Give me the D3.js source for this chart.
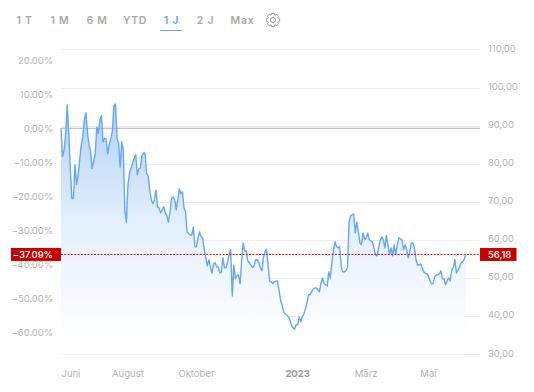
<!DOCTYPE html>
<html><head><meta charset="utf-8">
<script src="https://cdn.jsdelivr.net/npm/d3@7"></script>
<style>html,body{margin:0;padding:0;background:#fff}svg{display:block}text{font-family:Inter,"Noto Sans",sans-serif}</style>
</head><body><div id="c"></div>
<script>
const closes=[89.3,81.9,83.6,88.0,95.4,88.0,78.4,70.8,71.0,79.7,74.5,77.1,81.0,85.0,87.1,91.5,93.4,88.0,85.0,83.2,
78.7,80.6,82.8,89.6,88.0,91.5,92.6,85.8,86.7,86.5,82.6,85.0,86.7,88.5,95.2,95.7,86.7,85.4,79.1,85.8,
83.6,67.9,64.7,74.4,77.6,78.9,80.2,81.5,82.3,77.1,78.6,78.9,82.1,82.8,82.8,77.3,76.8,73.1,70.5,69.5,
70.5,73.1,68.7,68.4,67.1,67.9,68.7,67.1,66.3,64.7,67.4,71.0,71.3,70.5,67.9,70.5,73.4,72.1,72.6,68.4,
67.4,62.1,61.6,61.3,61.3,63.4,58.2,58.2,60.5,62.1,60.8,60.5,57.4,55.3,53.2,54.8,52.9,51.3,53.7,54.0,
52.9,52.9,51.3,51.6,55.3,52.7,52.7,54.2,56.3,57.4,45.3,53.4,49.8,50.6,50.8,48.5,54.2,59.2,57.1,57.1,
54.5,54.0,53.4,52.7,53.2,54.8,54.8,54.2,52.7,51.9,55.3,56.9,57.6,53.4,49.2,49.0,48.5,49.0,49.1,49.2,
46.9,44.3,42.9,41.1,40.6,40.3,39.8,39.0,37.7,36.9,36.6,37.7,37.7,39.8,38.5,39.8,40.6,41.9,43.5,45.6,
45.6,46.4,47.1,47.4,47.4,46.9,46.4,48.7,50.0,48.5,48.2,47.9,51.6,50.0,54.2,57.4,59.5,58.2,57.9,58.2,
52.9,51.6,51.6,51.9,52.7,64.7,66.3,66.6,66.8,61.8,64.7,62.1,59.2,58.7,61.8,60.0,60.5,61.8,60.0,59.7,
59.5,57.9,56.1,55.8,57.9,59.7,60.8,60.0,57.9,61.1,58.7,56.1,57.9,55.8,58.7,56.1,58.7,60.5,60.3,60.0,
57.4,58.7,57.4,55.3,56.9,59.2,59.2,57.9,54.8,53.4,53.4,53.7,52.7,51.6,51.3,51.1,50.6,49.2,48.5,48.5,
50.3,50.8,50.8,51.1,51.9,49.8,49.8,48.2,49.2,50.0,49.2,52.1,52.7,54.8,51.3,52.1,52.9,54.0,54.2,55.0,56.18];
const basePrice=89.3;
const lastPrice=56.18;
const lastPct=-37.09;
const priceTicks=[110,100,90,80,70,60,50,40,30];
const pctTicks=[20,10,0,-10,-20,-30,-40,-50,-60];
const monthLabels=["Juni","August","Oktober","2023","März","Mai"];
const monthSessions=[6.4,43,87,152,196,236];
const tabs=["1 T","1 M","6 M","YTD","1 J","2 J","Max"];
const tabCentres=[24.5,60,97,135,171.5,205.5,242.5];
const activeTab="1 J";

const W=534,H=392;
const svg=d3.select("#c").append("svg").attr("width",W).attr("height",H);
const x=d3.scaleLinear().domain([0,closes.length-1]).range([61,465.8]);
const y=d3.scaleLinear().domain([30,110]).range([354.2,49.4]);
const yPct=p=>y(basePrice*(1+p/100));
const fmt=v=>d3.format(".2f")(v).replace("-","\u2212");
const de=v=>d3.format(".2f")(v).replace(".",",");
const grey="#b4b4b4";

const g=svg.append("linearGradient").attr("id","fill").attr("gradientUnits","userSpaceOnUse")
 .attr("x1",0).attr("x2",0).attr("y1",y(95.7)).attr("y2",y(34));
g.append("stop").attr("offset",0).attr("stop-color","#b2d1f5");
g.append("stop").attr("offset",.5).attr("stop-color","#e3effc");
g.append("stop").attr("offset",1).attr("stop-color","#ffffff");

tabs.forEach((t,i)=>{
 svg.append("text").attr("x",tabCentres[i]).attr("y",24).attr("text-anchor","middle")
  .attr("font-size",10.5).attr("font-weight",600).attr("letter-spacing",.7)
  .attr("fill",t===activeTab?"#5ea3ee":"#ada7a2").text(t);
});
svg.append("line").attr("x1",160).attr("x2",182).attr("y1",30.5).attr("y2",30.5).attr("stroke","#5ea3ee").attr("stroke-width",1);
const gear=d3.lineRadial().curve(d3.curveLinearClosed).angle(d=>d[0]).radius(d=>d[1]);
const teeth=d3.range(8).flatMap(i=>{const a=i*Math.PI/4;return [[a-.2,6.8],[a+.2,6.8],[a+.36,5.2],[a+Math.PI/4-.36,5.2]];});
const gi=svg.append("g").attr("transform","translate(273,20)").attr("fill","none").attr("stroke","#8f8f8f").attr("stroke-width",.9);
gi.append("path").attr("d",gear(teeth)).attr("stroke-linejoin","round");
gi.append("circle").attr("r",2.6);

svg.append("g").selectAll("line").data(priceTicks).join("line")
 .attr("x1",61).attr("x2",480).attr("y1",d=>Math.round(y(d))+.5).attr("y2",d=>Math.round(y(d))+.5)
 .attr("stroke","#eeeeee");

svg.append("path").attr("d",d3.area().x((d,i)=>x(i)).y0(y(30)).y1(d=>y(d))(closes)).attr("fill","url(#fill)");
svg.append("line").attr("x1",61).attr("x2",480).attr("y1",yPct(0)).attr("y2",yPct(0)).attr("stroke","#aeb1c6").attr("stroke-width",1);
svg.append("path").attr("d",d3.line().x((d,i)=>x(i)).y(d=>y(d))(closes)).attr("fill","none").attr("stroke","#64a9f0").attr("stroke-width",1.4).attr("stroke-linejoin","round");

svg.append("g").selectAll("text").data(priceTicks).join("text")
 .attr("x",488).attr("y",d=>y(d)-1).attr("dy","0.35em").attr("text-anchor","start")
 .attr("font-size",9.5).attr("letter-spacing",-.05).attr("fill",grey).text(de);
svg.append("g").selectAll("text").data(pctTicks).join("text")
 .attr("x",53).attr("y",d=>yPct(d)).attr("dy","0.35em").attr("text-anchor","end")
 .attr("font-size",9.5).attr("letter-spacing",-.05).attr("fill",grey).text(d=>fmt(d)+"%");
svg.append("g").selectAll("text").data(monthLabels).join("text")
 .attr("x",(d,i)=>x(monthSessions[i])).attr("y",377).attr("text-anchor","middle")
 .attr("font-size",9.5).attr("font-weight",d=>d==="2023"?700:400)
 .attr("fill",d=>d==="2023"?"#999999":grey).text(d=>d);

const ly=y(lastPrice);
svg.append("line").attr("x1",61).attr("x2",480).attr("y1",ly).attr("y2",ly).attr("stroke","#d01010").attr("stroke-width",1).attr("stroke-dasharray","2 1.3");
svg.append("rect").attr("x",11).attr("y",ly-6.5).attr("width",50).attr("height",13).attr("fill","#c80000");
svg.append("rect").attr("x",480).attr("y",ly-6.5).attr("width",36.5).attr("height",13).attr("fill","#c80000");
svg.append("text").attr("x",53).attr("y",ly).attr("dy","0.35em").attr("text-anchor","end").attr("font-size",9.5).attr("font-weight",500).attr("letter-spacing",-.05).attr("fill","#fff").text(fmt(lastPct)+"%");
svg.append("text").attr("x",488).attr("y",ly).attr("dy","0.35em").attr("text-anchor","start").attr("font-size",9.5).attr("font-weight",500).attr("letter-spacing",-.05).attr("fill","#fff").text(de(lastPrice));
</script></body></html>
